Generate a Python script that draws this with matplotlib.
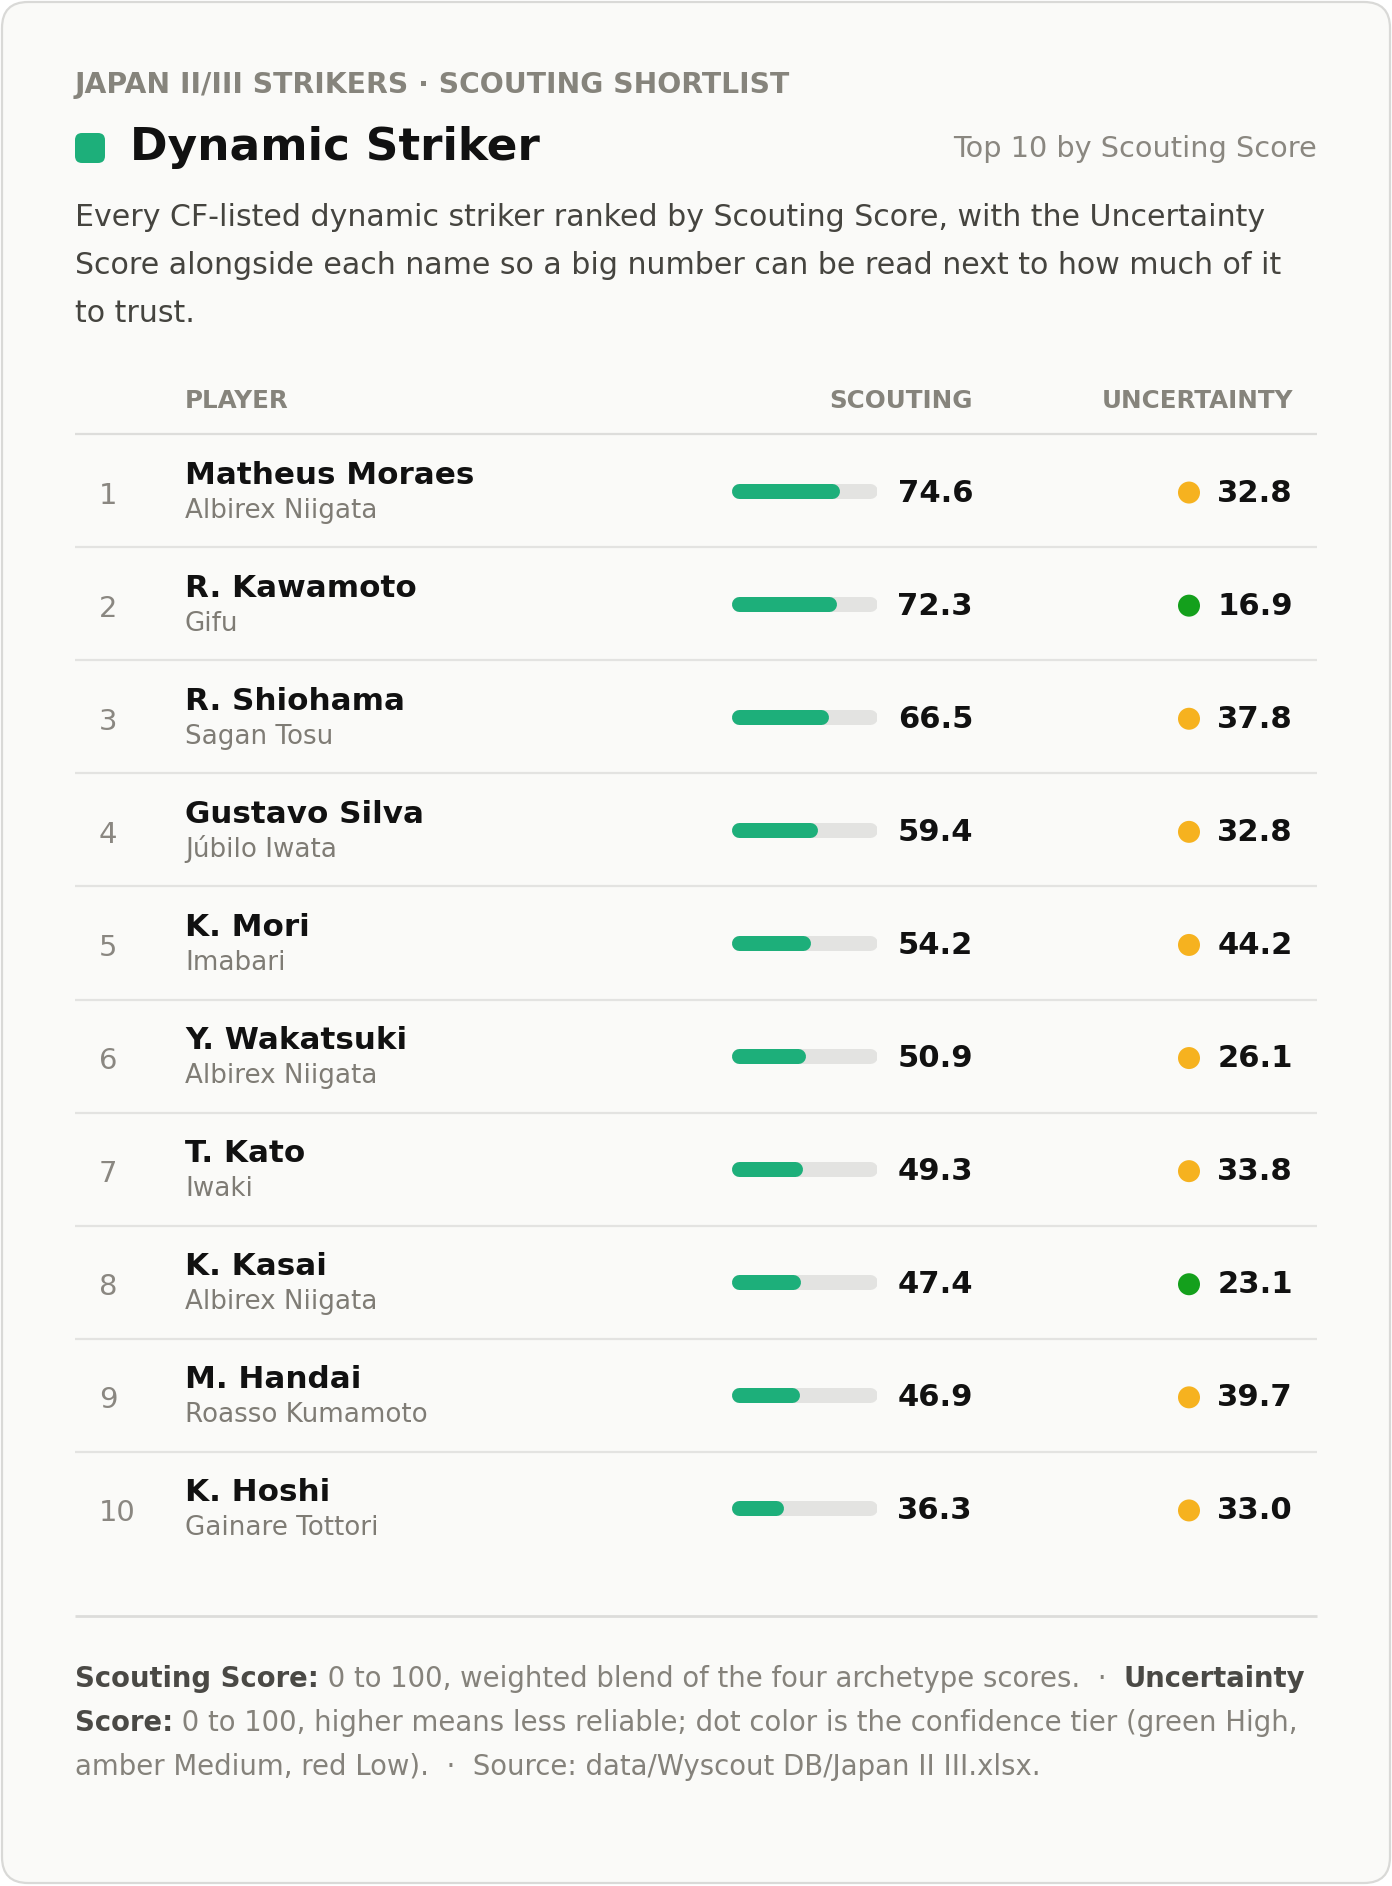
import matplotlib
matplotlib.use("Agg")
import matplotlib.pyplot as plt
from matplotlib.patches import FancyBboxPatch

plt.rcParams['font.family'] = ['DejaVu Sans']

# ---------------- data ----------------
players = ["Matheus Moraes", "R. Kawamoto", "R. Shiohama", "Gustavo Silva", "K. Mori",
           "Y. Wakatsuki", "T. Kato", "K. Kasai", "M. Handai", "K. Hoshi"]
clubs = ["Albirex Niigata", "Gifu", "Sagan Tosu", "Júbilo Iwata", "Imabari",
         "Albirex Niigata", "Iwaki", "Albirex Niigata", "Roasso Kumamoto", "Gainare Tottori"]
scouting = [74.6, 72.3, 66.5, 59.4, 54.2, 50.9, 49.3, 47.4, 46.9, 36.3]
uncertainty = [32.8, 16.9, 37.8, 32.8, 44.2, 26.1, 33.8, 23.1, 39.7, 33.0]
tiers = ["Medium", "High", "Medium", "Medium", "Medium", "Medium", "Medium", "High", "Medium", "Medium"]
tier_colors = {"High": "#14a01c", "Medium": "#f6b21f", "Low": "#d9342b"}

kicker = "JAPAN II/III STRIKERS · SCOUTING SHORTLIST"
title = "Dynamic Striker"
subtitle_right = "Top 10 by Scouting Score"
desc_lines = ["Every CF-listed dynamic striker ranked by Scouting Score, with the Uncertainty",
              "Score alongside each name so a big number can be read next to how much of it",
              "to trust."]
col_headers = ["PLAYER", "SCOUTING", "UNCERTAINTY"]
footer_lines = [
    [("Scouting Score:", True), (" 0 to 100, weighted blend of the four archetype scores.  ·  ", False), ("Uncertainty", True)],
    [("Score:", True), (" 0 to 100, higher means less reliable; dot color is the confidence tier (green High,", False)],
    [("amber Medium, red Low).  ·  Source: data/Wyscout DB/Japan II III.xlsx.", False)],
]

# ---------------- layout ----------------
W, H, DPI = 1392, 1886, 100
fig = plt.figure(figsize=(W / DPI, H / DPI), dpi=DPI, facecolor="white")
ax = fig.add_axes([0, 0, 1, 1])
ax.set_xlim(0, W)
ax.set_ylim(H, 0)
ax.axis("off")
fig.canvas.draw()
renderer = fig.canvas.get_renderer()


def width_at(s, size, weight):
    t = ax.text(0, 0, s, fontsize=size, fontweight=weight)
    w = t.get_window_extent(renderer).width
    t.remove()
    return w


def fit(s, target, weight="normal"):
    return 20 * target / width_at(s, 20, weight)


GRAY = "#86847c"
DARK = "#111111"

card = FancyBboxPatch((2, 2), W - 4, H - 5, boxstyle="round,pad=0,rounding_size=26",
                      fc="#fafaf8", ec="#d9d9d7", lw=1.6, zorder=0)
ax.add_patch(card)

L, R = 75, 1317

# kicker
ax.text(L, 93, kicker, fontsize=fit(kicker, 711, "bold"), fontweight="bold", color=GRAY, va="baseline")

# title + chip
ax.add_patch(FancyBboxPatch((75, 133), 30, 30, boxstyle="round,pad=0,rounding_size=7",
                            fc="#1daf7a", ec="none", zorder=2))
ax.text(130, 160, title, fontsize=fit(title, 410, "bold"), fontweight="bold", color=DARK, va="baseline")
ax.text(R, 157, subtitle_right, fontsize=fit(subtitle_right, 363), color="#8a8780",
        ha="right", va="baseline")

# description
dsize = fit(desc_lines[0], 1187)
for k, line in enumerate(desc_lines):
    ax.text(L, 226 + 48 * k, line, fontsize=dsize, color="#45443f", va="baseline")

# column headers
hsize = fit("UNCERTAINTY", 191, "bold")
ax.text(185, 408, col_headers[0], fontsize=hsize, fontweight="bold", color=GRAY, va="baseline")
ax.text(973, 408, col_headers[1], fontsize=hsize, fontweight="bold", color=GRAY, va="baseline", ha="right")
ax.text(1293, 408, col_headers[2], fontsize=hsize, fontweight="bold", color=GRAY, va="baseline", ha="right")

top, rowh = 434, 113.1
n = len(players)
ax.plot([L, R], [top, top], color="#dddddb", lw=1.6, solid_capstyle="butt")
for k in range(1, n):
    ax.plot([L, R], [top + rowh * k, top + rowh * k], color="#e3e3e1", lw=1.6, solid_capstyle="butt")

name_size = fit("Matheus Moraes", 289, "bold")
club_size = fit("Albirex Niigata", 191)
val_size = fit("74.6", 76, "bold")
rank_size = fit("10", 37)

# bar axes: x in score units (0-100), y in row units
bax = fig.add_axes([731 / W, 1 - (top + rowh * n) / H, 146 / W, rowh * n / H])
bax.set_xlim(0, 100)
bax.set_ylim(n, 0)
bax.axis("off")
bar_lw_px = 15
cap = (bar_lw_px / 2) / 146 * 100
lw_pt = bar_lw_px * 72 / DPI

for i in range(n):
    cy = top + rowh * (i + 0.5)
    ax.text(99, cy + 13, str(i + 1), fontsize=rank_size, color="#8a8781", va="baseline")
    ax.text(185, cy - 7, players[i], fontsize=name_size, fontweight="bold", color=DARK, va="baseline")
    ax.text(185, cy + 27, clubs[i], fontsize=club_size, color="#7f7c75", va="baseline")
    yb = i + 0.5
    bax.plot([cap, 100 - cap], [yb, yb], color="#e3e3e1", lw=lw_pt, solid_capstyle="round")
    bax.plot([cap, max(scouting[i] - cap, cap)], [yb, yb], color="#1daf7a", lw=lw_pt,
             solid_capstyle="round")
    ax.text(973, cy + 11, f"{scouting[i]:.1f}", fontsize=val_size, fontweight="bold",
            color=DARK, ha="right", va="baseline")
    ax.scatter([1189], [cy + 2], s=(22 * 72 / DPI) ** 2, color=tier_colors[tiers[i]],
               edgecolors="none", zorder=3)
    ax.text(1293, cy + 11, f"{uncertainty[i]:.1f}", fontsize=val_size, fontweight="bold",
            color=DARK, ha="right", va="baseline")

# footer
ax.plot([L, R], [1616, 1616], color="#dcdcda", lw=2.0, solid_capstyle="butt")


def runs_width(runs, size):
    return sum(width_at(s, size, "bold" if b else "normal") for s, b in runs)


fsize = 20 * 1234 / runs_width(footer_lines[0], 20)
for k, runs in enumerate(footer_lines):
    x = L
    y = 1687 + 44 * k
    for s, b in runs:
        t = ax.text(x, y, s, fontsize=fsize, fontweight="bold" if b else "normal",
                    color="#4a4945" if b else "#85827b", va="baseline")
        x += t.get_window_extent(renderer).width

fig.savefig("out.png", dpi=DPI, facecolor="white")
